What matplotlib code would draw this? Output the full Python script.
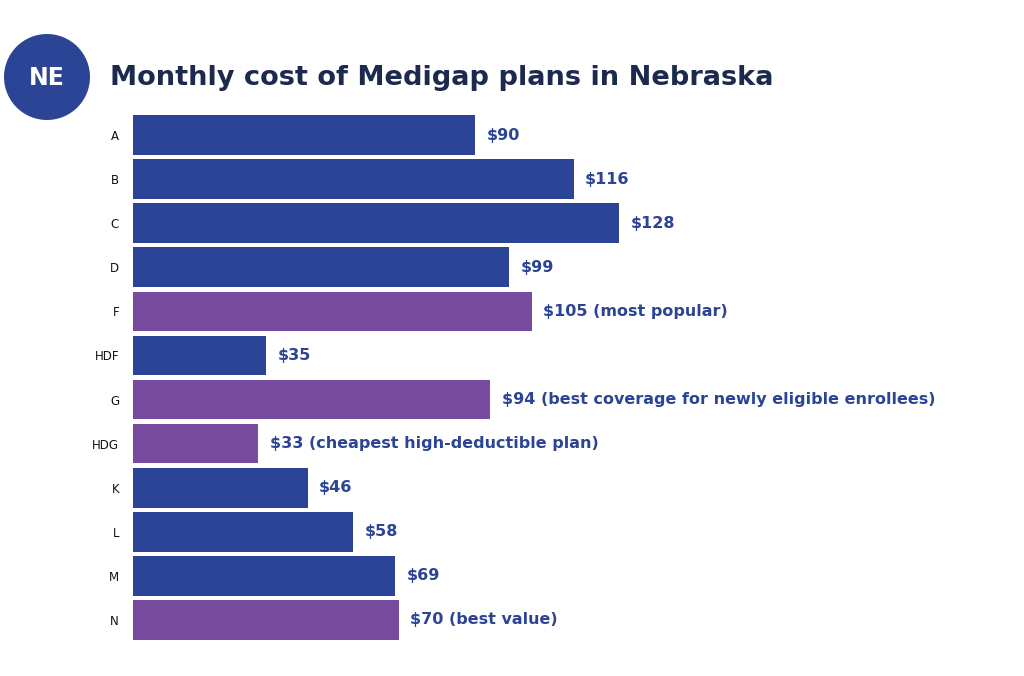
import matplotlib.pyplot as plt
from matplotlib.patches import Circle

plans = ["A", "B", "C", "D", "F", "HDF", "G", "HDG", "K", "L", "M", "N"]
costs = [90, 116, 128, 99, 105, 35, 94, 33, 46, 58, 69, 70]
notes = ["", "", "", "", " (most popular)", "", " (best coverage for newly eligible enrollees)",
         " (cheapest high-deductible plan)", "", "", "", " (best value)"]
highlight = [False, False, False, False, True, False, True, True, False, False, False, True]

blue = "#2B4496"
purple = "#774B9E"
navy = "#1B2A4E"

plt.rcParams["font.family"] = ["DejaVu Sans"]

fig = plt.figure(figsize=(10.24, 6.76), dpi=100)
ax = fig.add_axes([133 / 1024, 1 - 642 / 676, 867 / 1024, 529 / 676])

colors = [purple if h else blue for h in highlight]
ypos = list(range(len(plans)))
ax.barh(ypos, costs, height=0.9, color=colors)

for y, c, n in zip(ypos, costs, notes):
    ax.text(c + 3, y, f"${c}{n}", va="center", ha="left",
            fontsize=11.5, fontweight="bold", color=blue)

ax.set_xlim(0, 867 / 3.8)
ax.set_ylim(len(plans) - 0.5, -0.5)
ax.set_yticks(ypos)
ax.set_yticklabels(plans, fontsize=8.5, color="#111111")
ax.tick_params(axis="y", length=0, pad=10)
ax.set_xticks([])
for s in ax.spines.values():
    s.set_visible(False)

# state badge (inches, so it stays round) and title
fig.patches.append(Circle((0.47, 6.76 - 0.77), 0.43, transform=fig.dpi_scale_trans,
                          facecolor=blue, edgecolor="none"))
fig.text(47 / 1024, 1 - 78 / 676, "NE", ha="center", va="center",
         fontsize=17, fontweight="bold", color="white")
fig.text(110 / 1024, 1 - 78 / 676, "Monthly cost of Medigap plans in Nebraska",
         ha="left", va="center", fontsize=19.6, fontweight="heavy", color=navy)

fig.savefig("out.png", dpi=100)
